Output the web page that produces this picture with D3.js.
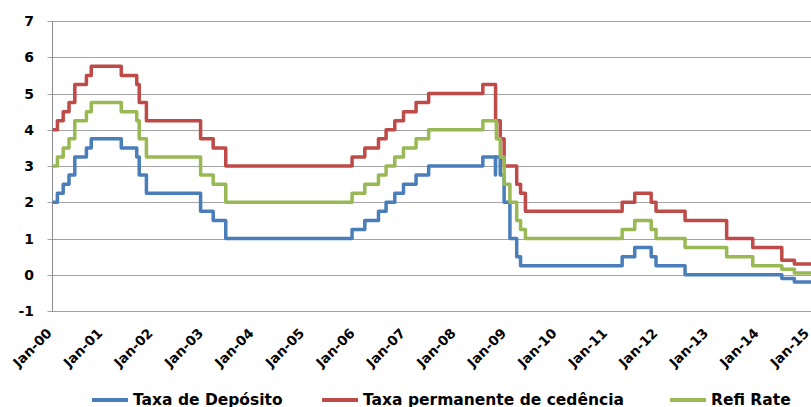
<html>
<head>
<meta charset="utf-8">
<script src="https://d3js.org/d3.v7.min.js"></script>
<style>
  body { margin: 0; background: #fff; }
  text { font-family: "DejaVu Sans", Verdana, sans-serif; font-weight: bold; fill: #000; }
</style>
</head>
<body>
<script>
// ECB rate changes (date the new rate applies, value in %)
var depoDates = ["2000-01-01","2000-02-04","2000-03-17","2000-04-28","2000-06-09","2000-09-01","2000-10-06",
  "2001-05-11","2001-08-31","2001-09-18","2001-11-09","2002-12-06","2003-03-07","2003-06-06",
  "2005-12-06","2006-03-08","2006-06-15","2006-08-09","2006-10-11","2006-12-13","2007-03-14","2007-06-13",
  "2008-07-09","2008-10-08","2008-10-09","2008-11-12","2008-12-10","2009-01-21","2009-03-11","2009-04-08",
  "2011-04-13","2011-07-13","2011-11-09","2011-12-14","2012-07-11","2014-06-11","2014-09-10","2015-03-01"];
var depoRates = [2.00,2.25,2.50,2.75,3.25,3.50,3.75,
  3.50,3.25,2.75,2.25,1.75,1.50,1.00,
  1.25,1.50,1.75,2.00,2.25,2.50,2.75,3.00,
  3.25,2.75,3.25,2.75,2.00,1.00,0.50,0.25,
  0.50,0.75,0.50,0.25,0.00,-0.10,-0.20,-0.20];

var mlfDates = ["2000-01-01","2000-02-04","2000-03-17","2000-04-28","2000-06-09","2000-09-01","2000-10-06",
  "2001-05-11","2001-08-31","2001-09-18","2001-11-09","2002-12-06","2003-03-07","2003-06-06",
  "2005-12-06","2006-03-08","2006-06-15","2006-08-09","2006-10-11","2006-12-13","2007-03-14","2007-06-13",
  "2008-07-09","2008-10-09","2008-11-12","2008-12-10","2009-03-11","2009-04-08","2009-05-13",
  "2011-04-13","2011-07-13","2011-11-09","2011-12-14","2012-07-11","2013-05-08","2013-11-13",
  "2014-06-11","2014-09-10","2015-03-01"];
var mlfRates = [4.00,4.25,4.50,4.75,5.25,5.50,5.75,
  5.50,5.25,4.75,4.25,3.75,3.50,3.00,
  3.25,3.50,3.75,4.00,4.25,4.50,4.75,5.00,
  5.25,4.25,3.75,3.00,2.50,2.25,1.75,
  2.00,2.25,2.00,1.75,1.50,1.00,0.75,
  0.40,0.30,0.30];

var refiDates = ["2000-01-01","2000-02-04","2000-03-17","2000-04-28","2000-06-09","2000-09-01","2000-10-06",
  "2001-05-11","2001-08-31","2001-09-18","2001-11-09","2002-12-06","2003-03-07","2003-06-06",
  "2005-12-06","2006-03-08","2006-06-15","2006-08-09","2006-10-11","2006-12-13","2007-03-14","2007-06-13",
  "2008-07-09","2008-10-15","2008-11-12","2008-12-10","2009-01-21","2009-03-11","2009-04-08","2009-05-13",
  "2011-04-13","2011-07-13","2011-11-09","2011-12-14","2012-07-11","2013-05-08","2013-11-13",
  "2014-06-11","2014-09-10","2015-03-01"];
var refiRates = [3.00,3.25,3.50,3.75,4.25,4.50,4.75,
  4.50,4.25,3.75,3.25,2.75,2.50,2.00,
  2.25,2.50,2.75,3.00,3.25,3.50,3.75,4.00,
  4.25,3.75,3.25,2.50,2.00,1.50,1.25,1.00,
  1.25,1.50,1.25,1.00,0.75,0.50,0.25,
  0.15,0.05,0.05];

var yTicks = [-1, 0, 1, 2, 3, 4, 5, 6, 7];
var seriesNames = ["Taxa de Depósito", "Taxa permanente de cedência", "Refi Rate"];
var seriesColors = ["#4a7ebb", "#be4b48", "#98b954"];

var width = 811, height = 407;
var parse = d3.timeParse("%Y-%m-%d");

var svg = d3.select("body").append("svg")
  .attr("width", width)
  .attr("height", height);

var x = d3.scaleTime()
  .domain([new Date(2000, 0, 1), new Date(2015, 0, 1)])
  .range([52.7, 810]);
var y = d3.scaleLinear().domain([-1, 7]).range([311, 21]);

// gridlines
svg.append("g").selectAll("line").data(yTicks).join("line")
  .attr("x1", 47.5).attr("x2", width)
  .attr("y1", d => Math.round(y(d)) + 0.5).attr("y2", d => Math.round(y(d)) + 0.5)
  .attr("stroke", "#a3a3a3").attr("stroke-width", 1);

// y axis line
svg.append("line")
  .attr("x1", 52.5).attr("x2", 52.5)
  .attr("y1", Math.round(y(7))).attr("y2", Math.round(y(-1)) + 1)
  .attr("stroke", "#8c8c8c").attr("stroke-width", 1);

svg.append("g").selectAll("text").data(yTicks).join("text")
  .attr("x", 34).attr("y", d => y(d) + 5)
  .attr("text-anchor", "end")
  .style("font-size", "14px")
  .text(d => d);

// x labels
var xTicks = x.ticks(d3.timeYear.every(1));
svg.append("g").selectAll("text").data(xTicks).join("text")
  .attr("text-anchor", "end")
  .attr("transform", d => `translate(${x(d)},${334}) rotate(-45)`)
  .style("font-size", "13.5px")
  .text(d3.timeFormat("Jan-%y"));

var line = d3.line()
  .curve(d3.curveStepAfter)
  .x(d => x(d.date))
  .y(d => y(d.value));

var series = [
  depoDates.map((d, i) => ({ date: parse(d), value: depoRates[i] })),
  mlfDates.map((d, i) => ({ date: parse(d), value: mlfRates[i] })),
  refiDates.map((d, i) => ({ date: parse(d), value: refiRates[i] }))
];

svg.append("clipPath").attr("id", "clip")
  .append("rect").attr("x", 0).attr("y", 0).attr("width", width).attr("height", 315);

svg.append("g").attr("clip-path", "url(#clip)")
  .selectAll("path").data(series).join("path")
  .attr("fill", "none")
  .attr("stroke", (d, i) => seriesColors[i])
  .attr("stroke-width", 3.5)
  .attr("stroke-linejoin", "round")
  .attr("d", line);

// legend
var legendX = [92, 322, 670];
var lg = svg.append("g").selectAll("g").data(seriesNames).join("g")
  .attr("transform", (d, i) => `translate(${legendX[i]},400)`);
lg.append("line")
  .attr("x1", 0).attr("x2", 36).attr("y1", 0).attr("y2", 0)
  .attr("stroke", (d, i) => seriesColors[i]).attr("stroke-width", 4);
lg.append("text")
  .attr("x", 41).attr("y", 5)
  .style("font-size", "15.5px")
  .text(d => d);
</script>
</body>
</html>
